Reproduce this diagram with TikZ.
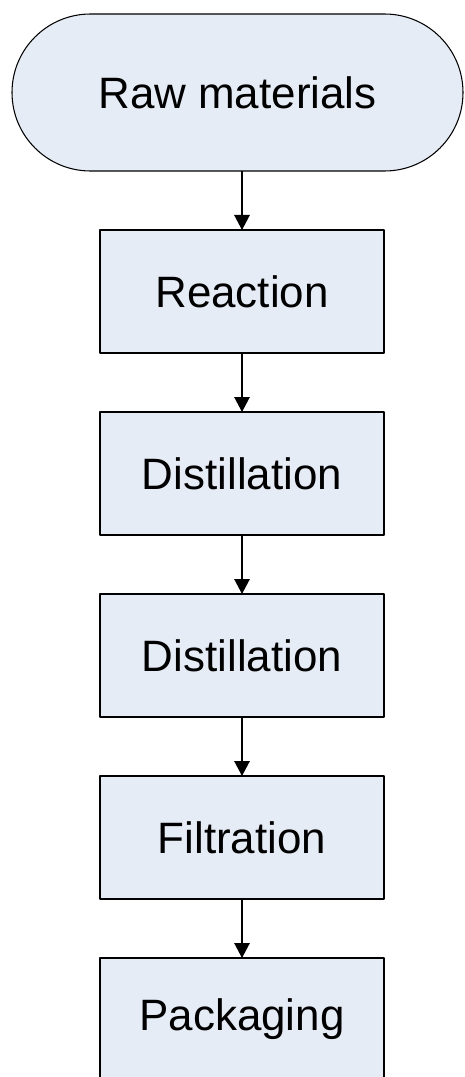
\documentclass[tikz,border=0pt]{standalone}
\usepackage{fontspec}
\setmainfont{Liberation Sans}
\usetikzlibrary{positioning,arrows.meta}
\definecolor{boxfill}{HTML}{E6ECF6}
\begin{document}
\begin{tikzpicture}[line join = round, >={Triangle[length=0.3cm,width=0.31cm]}, font=\fontsize{25}{30}\selectfont,
		node distance=1.18cm,
		stage/.style={draw, fill=boxfill, line width=0.6pt, minimum width=5.68cm, minimum height=2.46cm, outer sep=0pt},
		terminal/.style={draw, fill=boxfill, line width=0.6pt, rounded corners=1.57cm, minimum width=9.02cm, minimum height=3.14cm, outer sep=0pt}]
		\useasboundingbox (0,0) rectangle (9.3,-21.54);
		\node[terminal] (raw) at (4.75,-1.85) {Raw materials};
		\node[stage, below=1.18cm of raw, xshift=0.09cm] (react) {Reaction};
		\node[stage, below=of react] (dist1) {Distillation};
		\node[stage, below=of dist1] (dist2) {Distillation};
		\node[stage, below=of dist2] (filt) {Filtration};
		\node[stage, below=of filt] (pack) {Packaging};
		\draw[->, line width=0.75pt] (raw.south -| react.north) -- (react.north);
		\draw[->, line width=0.75pt] (react) -- (dist1);
		\draw[->, line width=0.75pt] (dist1) -- (dist2);
		\draw[->, line width=0.75pt] (dist2) -- (filt);
		\draw[->, line width=0.75pt] (filt) -- (pack);
	\end{tikzpicture}
\end{document}
